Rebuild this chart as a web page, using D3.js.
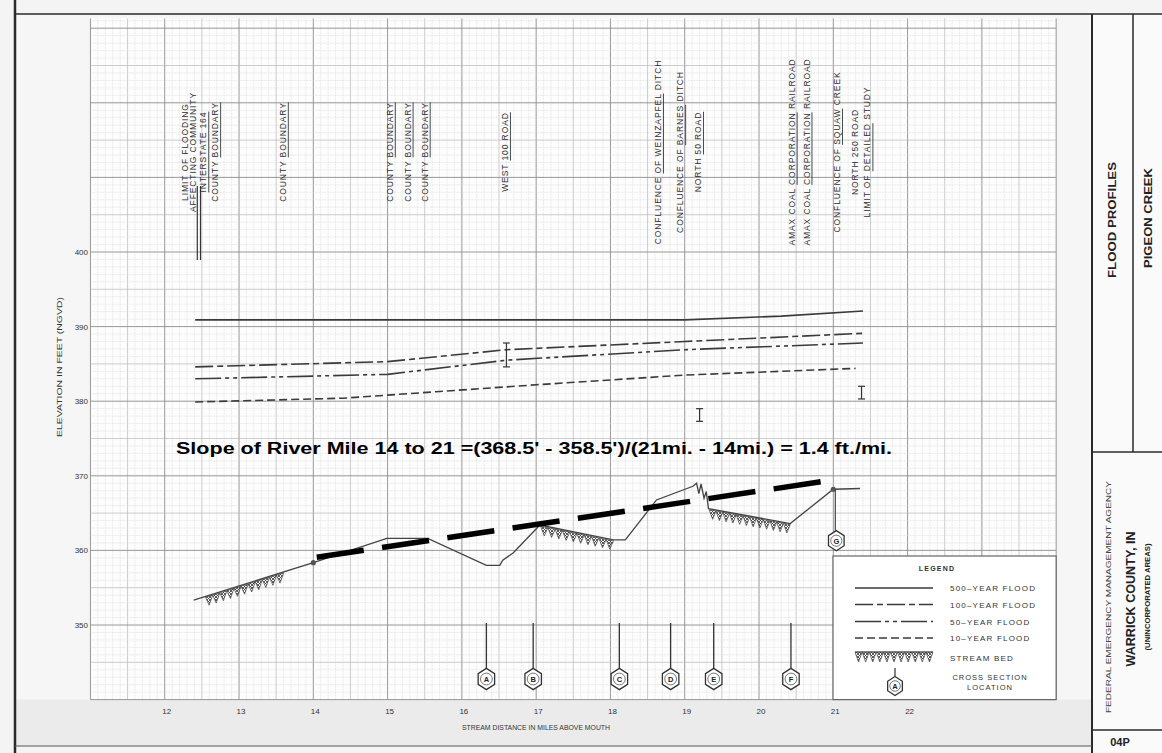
<!DOCTYPE html>
<html><head><meta charset="utf-8">
<script src="https://cdn.jsdelivr.net/npm/d3@7"></script>
<style>body{margin:0;background:#fff}svg{display:block}text{font-family:"Liberation Sans",Arial,sans-serif}</style>
</head><body>
<svg id="c" width="1162" height="753"></svg>
<script>
// ---------- data ----------
const xTicks=[12,13,14,15,16,17,18,19,20,21,22];
const yTicks=[350,360,370,380,390,400];
const flood500=[[12.41,390.9],[19.0,390.9],[20.3,391.4],[21.4,392.1]];
const flood100=[[12.41,384.6],[15.0,385.3],[16.6,386.9],[19.0,388.0],[21.4,389.1]];
const flood50=[[12.41,383.0],[15.0,383.6],[16.6,385.5],[19.0,386.9],[21.4,387.8]];
const flood10=[[12.41,379.9],[14.4,380.4],[15.7,381.3],[17.0,382.2],[19.0,383.5],[21.3,384.4]];
const streamBed=[[12.39,353.35],[14.0,358.35],[14.99,361.6],[15.54,361.6],[16.33,358.0],[16.51,358.0],[16.55,358.7],[16.69,359.65],[17.05,363.4],[18.04,361.4],[18.2,361.4],[18.62,366.76],[19.11,368.6],[19.16,369.0],[19.19,367.6],[19.22,368.9],[19.26,367.0],[19.29,367.9],[19.32,365.6],[20.42,363.6],[21.0,368.2],[21.36,368.3]];
const bedHatched=[[12.55,13.6],[17.06,18.04],[19.33,20.42]];
const bedMarkers=[14.0,21.0];
const slopeLine=[[14.0,359.0],[21.0,369.45]];
const slopeText="Slope of River Mile 14 to 21 =(368.5' - 358.5')/(21mi. - 14mi.) = 1.4 ft./mi.";
const errorBars=[[16.6,387.8,384.6],[19.2,379.0,377.3],[21.38,382.0,380.3]];
const crossSections=[["A",16.33],["B",16.96],["C",18.12],["D",18.81],["E",19.39],["F",20.43]];
const crossSectionG=["G",21.0,368.2,361.3];
const annotations=[
 [12.27,"LIMIT OF FLOODING",""],
 [12.38,"AFFECTING COMMUNITY",""],
 [12.52,"INTERSTATE 164","INTERSTATE 164"],
 [12.68,"COUNTY BOUNDARY","BOUNDARY"],
 [13.59,"COUNTY BOUNDARY","BOUNDARY"],
 [15.03,"COUNTY BOUNDARY","BOUNDARY"],
 [15.27,"COUNTY BOUNDARY","BOUNDARY"],
 [15.50,"COUNTY BOUNDARY","BOUNDARY"],
 [16.58,"WEST 100 ROAD","100 ROAD"],
 [18.64,"CONFLUENCE OF WEINZAPFEL DITCH","OF WEINZAPFEL"],
 [18.94,"CONFLUENCE OF BARNES DITCH","BARNES"],
 [19.18,"NORTH 50 ROAD","50 ROAD"],
 [20.44,"AMAX COAL CORPORATION RAILROAD","CORPORATION"],
 [20.64,"AMAX COAL CORPORATION RAILROAD","CORPORATION"],
 [21.05,"CONFLUENCE OF SQUAW CREEK","SQUAW"],
 [21.29,"NORTH 250 ROAD",""],
 [21.46,"LIMIT OF DETAILED STUDY","DETAILED"]
];
const legendItems=[["500–YEAR FLOOD","500"],["100–YEAR FLOOD","100"],["50–YEAR FLOOD","50"],["10–YEAR FLOOD","10"]];
const dashes={"500":null,"100":"18,4,6,4","50":"26,4,4,4,4,4","10":"8,4"};

// ---------- setup ----------
const svg=d3.select("#c");
const x=d3.scaleLinear().domain([14,21]).range([313.3,833.3]);
const y=d3.scaleLinear().domain([350,400]).range([625,252]);
const gx=[11,24], gy=[340,431.3];
const defs=svg.append("defs");
const pat=defs.append("pattern").attr("id","xh").attr("width",3).attr("height",3).attr("patternUnits","userSpaceOnUse");
pat.append("path").attr("d","M0,0L3,3M3,0L0,3").attr("stroke","#333").attr("stroke-width",0.8);

// paper
svg.append("rect").attr("width",1162).attr("height",753).attr("fill","#f4f4f4");
svg.append("rect").attr("x",15).attr("y",14).attr("width",1077).attr("height",732).attr("fill","#f6f6f6");
svg.append("rect").attr("x",15).attr("y",y(gy[0])).attr("width",1077).attr("height",746-y(gy[0])).attr("fill","#ebebeb");
svg.append("rect").attr("x",x(gx[0])).attr("y",y(gy[1])).attr("width",x(gx[1])-x(gx[0])).attr("height",y(gy[0])-y(gy[1])).attr("fill","#fdfdfd");

// grid
const grid=svg.append("g");
const gcol=["#d6d6d6","#b8b8b8","#8c8c8c"], gw=[0.5,0.7,0.9];
d3.range(gx[0]*10,gx[1]*10+1).forEach(i=>{
  const cls=i%10===0?2:(i%5===0?1:0);
  grid.append("line").attr("x1",x(i/10)).attr("x2",x(i/10)).attr("y1",y(gy[0])).attr("y2",y(gy[1]))
   .attr("stroke",gcol[cls]).attr("stroke-width",gw[cls]).attr("stroke-dasharray",cls===0?"2,1":null);
});
d3.range(340,432).forEach(v=>{
  const cls=v%10===0?2:(v%5===0?1:0);
  grid.append("line").attr("y1",y(v)).attr("y2",y(v)).attr("x1",x(gx[0])).attr("x2",x(gx[1]))
   .attr("stroke",gcol[cls]).attr("stroke-width",gw[cls]).attr("stroke-dasharray",cls===0?"2,1":null);
});

// frame & title block
const ink="#2a2a2a";
svg.append("rect").attr("x",1093).attr("y",15).attr("width",69).attr("height",738).attr("fill","#fafafa");
svg.append("line").attr("x1",15).attr("x2",15).attr("y1",0).attr("y2",753).attr("stroke",ink).attr("stroke-width",2.5);
svg.append("line").attr("x1",15).attr("x2",1162).attr("y1",14).attr("y2",14).attr("stroke",ink).attr("stroke-width",1.5);
svg.append("line").attr("x1",1092).attr("x2",1092).attr("y1",14).attr("y2",753).attr("stroke",ink).attr("stroke-width",2);
svg.append("line").attr("x1",1133).attr("x2",1133).attr("y1",14).attr("y2",452).attr("stroke",ink).attr("stroke-width",1.5);
svg.append("line").attr("x1",1092).attr("x2",1162).attr("y1",452).attr("y2",452).attr("stroke",ink).attr("stroke-width",1.5);
svg.append("line").attr("x1",1092).attr("x2",1162).attr("y1",730).attr("y2",730).attr("stroke",ink).attr("stroke-width",1.5);
svg.append("line").attr("x1",15).attr("x2",1092).attr("y1",746).attr("y2",746).attr("stroke","#555").attr("stroke-width",1.2);
function vtext(px,py,str,size,weight,len,fill){
  const t=svg.append("text").attr("x",px).attr("y",py).attr("transform",`rotate(-90,${px},${py})`)
   .attr("text-anchor","middle").attr("dominant-baseline","central").attr("font-size",size)
   .attr("font-weight",weight).attr("fill",fill||"#222").text(str);
  if(len) t.attr("textLength",len).attr("lengthAdjust","spacingAndGlyphs");
  return t;
}
vtext(1112,220,"FLOOD PROFILES",11,"bold",116);
vtext(1148,218,"PIGEON CREEK",11,"bold",100);
vtext(1108,597,"FEDERAL EMERGENCY MANAGEMENT AGENCY",7,"normal",232,"#444");
vtext(1131,599,"WARRICK COUNTY, IN",12.5,"bold",135);
vtext(1147,597,"(UNINCORPORATED AREAS)",6.5,"bold",107);
svg.append("text").attr("x",1120).attr("y",746).attr("text-anchor","middle").attr("font-size",11).attr("font-weight","bold").attr("fill","#222").text("04P");

// axes text
svg.append("g").selectAll("text").data(xTicks).join("text").attr("x",d=>x(d)+2).attr("y",714)
 .attr("text-anchor","middle").attr("font-size",8).attr("fill","#333").text(d=>d);
svg.append("g").selectAll("text").data(yTicks).join("text").attr("x",88).attr("y",d=>y(d)+3)
 .attr("text-anchor","end").attr("font-size",8).attr("fill","#333").text(d=>d);
svg.append("text").attr("x",536).attr("y",730).attr("text-anchor","middle").attr("font-size",7).attr("fill","#333")
 .attr("textLength",148).attr("lengthAdjust","spacingAndGlyphs").text("STREAM DISTANCE IN MILES ABOVE MOUTH");
vtext(59,367,"ELEVATION IN FEET (NGVD)",7.5,"normal",140,"#333");

// annotations
const ann=svg.append("g");
annotations.forEach(([m,str,ul])=>{
  const px=x(m), py=152;
  const t=ann.append("text").attr("x",px).attr("y",py).attr("transform",`rotate(-90,${px},${py})`)
   .attr("text-anchor","middle").attr("dominant-baseline","central").attr("font-size",8.5)
   .attr("letter-spacing",0.9).attr("fill","#2e2e2e");
  if(ul){
    const i=str.indexOf(ul);
    if(i>0) t.append("tspan").text(str.slice(0,i));
    t.append("tspan").attr("text-decoration","underline").text(ul);
    if(i+ul.length<str.length) t.append("tspan").text(str.slice(i+ul.length));
  } else t.text(str);
});
// double marker bar near interstate
[-1.6,1.6].forEach(o=>svg.append("line").attr("x1",x(12.46)+o).attr("x2",x(12.46)+o).attr("y1",186).attr("y2",260)
 .attr("stroke","#333").attr("stroke-width",1.2));

// flood profiles
const line=d3.line().x(d=>x(d[0])).y(d=>y(d[1]));
[[flood500,"500"],[flood100,"100"],[flood50,"50"],[flood10,"10"]].forEach(([d,k])=>{
  svg.append("path").attr("d",line(d)).attr("fill","none").attr("stroke","#3a3a3a").attr("stroke-width",1.6)
   .attr("stroke-dasharray",dashes[k]);
});
// error bars
errorBars.forEach(([m,a,b])=>{
  const g=svg.append("g").attr("stroke","#333").attr("stroke-width",1.2);
  g.append("line").attr("x1",x(m)).attr("x2",x(m)).attr("y1",y(a)).attr("y2",y(b));
  g.append("line").attr("x1",x(m)-3.5).attr("x2",x(m)+3.5).attr("y1",y(a)).attr("y2",y(a));
  g.append("line").attr("x1",x(m)-3.5).attr("x2",x(m)+3.5).attr("y1",y(b)).attr("y2",y(b));
});

// stream bed
function bedAt(m){
  for(let i=0;i<streamBed.length-1;i++){
    const [m0,v0]=streamBed[i],[m1,v1]=streamBed[i+1];
    if(m>=m0&&m<=m1) return v0+(v1-v0)*(m-m0)/(m1-m0);
  }
  return streamBed[streamBed.length-1][1];
}
function hatchBand(g,p0,p1,depth){
  const dx=p1[0]-p0[0], n=Math.max(2,Math.round(Math.abs(dx)/7));
  for(let k=0;k<n;k++){
    const a=[p0[0]+(p1[0]-p0[0])*k/n,p0[1]+(p1[1]-p0[1])*k/n];
    const b=[p0[0]+(p1[0]-p0[0])*(k+1)/n,p0[1]+(p1[1]-p0[1])*(k+1)/n];
    const c=[(a[0]+b[0])/2,(a[1]+b[1])/2+depth];
    g.append("path").attr("d",`M${a}L${b}L${c}Z`).attr("fill","url(#xh)").attr("stroke","#444").attr("stroke-width",0.7);
  }
}
const hg=svg.append("g");
bedHatched.forEach(([m0,m1])=>{
  const ms=[m0,...streamBed.map(d=>d[0]).filter(m=>m>m0&&m<m1),m1];
  for(let i=0;i<ms.length-1;i++) hatchBand(hg,[x(ms[i]),y(bedAt(ms[i]))+1],[x(ms[i+1]),y(bedAt(ms[i+1]))+1],9);
});
svg.append("path").attr("d",line(streamBed)).attr("fill","none").attr("stroke","#444").attr("stroke-width",1.3);
bedMarkers.forEach(m=>svg.append("circle").attr("cx",x(m)).attr("cy",y(bedAt(m))).attr("r",2.6).attr("fill","#555"));

// cross sections
function hexagon(cx,cy,r,label){
  const pts=d3.range(6).map(i=>{const a=(-90+60*i)*Math.PI/180;return [cx+r*Math.cos(a),cy+r*1.12*Math.sin(a)];});
  svg.append("path").attr("d","M"+pts.join("L")+"Z").attr("fill","#fff").attr("stroke","#333").attr("stroke-width",1.3);
  svg.append("circle").attr("cx",cx).attr("cy",cy).attr("r",r*0.62).attr("fill","none").attr("stroke","#555").attr("stroke-width",0.8);
  svg.append("text").attr("x",cx).attr("y",cy+3).attr("text-anchor","middle").attr("font-size",7.5).attr("font-weight","bold").attr("fill","#222").text(label);
}
crossSections.forEach(([lab,m])=>{
  svg.append("line").attr("x1",x(m)).attr("x2",x(m)).attr("y1",623).attr("y2",668).attr("stroke","#333").attr("stroke-width",1.3);
  hexagon(x(m),679,9.5,lab);
});
svg.append("line").attr("x1",x(crossSectionG[1])+2).attr("x2",x(crossSectionG[1])+2).attr("y1",y(crossSectionG[2])).attr("y2",y(crossSectionG[3])-10).attr("stroke","#444").attr("stroke-width",1.2);
hexagon(x(crossSectionG[1])+3,y(crossSectionG[3]),9,crossSectionG[0]);

// slope line
svg.append("path").attr("d",line(slopeLine)).attr("fill","none").attr("stroke","#000").attr("stroke-width",5.5)
 .attr("stroke-dasharray","47.5,18.5").attr("stroke-dashoffset",62.5);
svg.append("text").attr("x",176).attr("y",454).attr("font-size",16).attr("font-weight","bold").attr("fill","#000")
 .attr("textLength",716).attr("lengthAdjust","spacingAndGlyphs").text(slopeText);

// legend
const L=svg.append("g");
L.append("rect").attr("x",833).attr("y",556).attr("width",x(gx[1])-833).attr("height",y(gy[0])-556).attr("fill","#fff").attr("stroke","#666").attr("stroke-width",1.2);
L.append("text").attr("x",937).attr("y",571).attr("text-anchor","middle").attr("font-size",7).attr("font-weight","bold").attr("letter-spacing",1.2).attr("fill","#333").text("LEGEND");
legendItems.forEach(([lab,k],i)=>{
  const yy=[588,604.5,621.5,638][i];
  L.append("line").attr("x1",855).attr("x2",933).attr("y1",yy).attr("y2",yy).attr("stroke","#3a3a3a").attr("stroke-width",1.6).attr("stroke-dasharray",dashes[k]);
  L.append("text").attr("x",950).attr("y",yy+3).attr("font-size",8).attr("letter-spacing",1.2).attr("fill","#333").text(lab);
});
L.append("line").attr("x1",855).attr("x2",933).attr("y1",652).attr("y2",652).attr("stroke","#444").attr("stroke-width",1.2);
hatchBand(L,[855,652],[933,652],10);
L.append("text").attr("x",950).attr("y",661).attr("font-size",8).attr("letter-spacing",1.2).attr("fill","#333").text("STREAM BED");
L.append("text").attr("x",990).attr("y",680).attr("text-anchor","middle").attr("font-size",7.5).attr("letter-spacing",1).attr("fill","#333").text("CROSS SECTION");
L.append("text").attr("x",990).attr("y",690).attr("text-anchor","middle").attr("font-size",7.5).attr("letter-spacing",1).attr("fill","#333").text("LOCATION");
L.append("line").attr("x1",895).attr("x2",895).attr("y1",668).attr("y2",676).attr("stroke","#333").attr("stroke-width",1.2);
hexagon(895,686,8.5,"A");
</script>
</body></html>
